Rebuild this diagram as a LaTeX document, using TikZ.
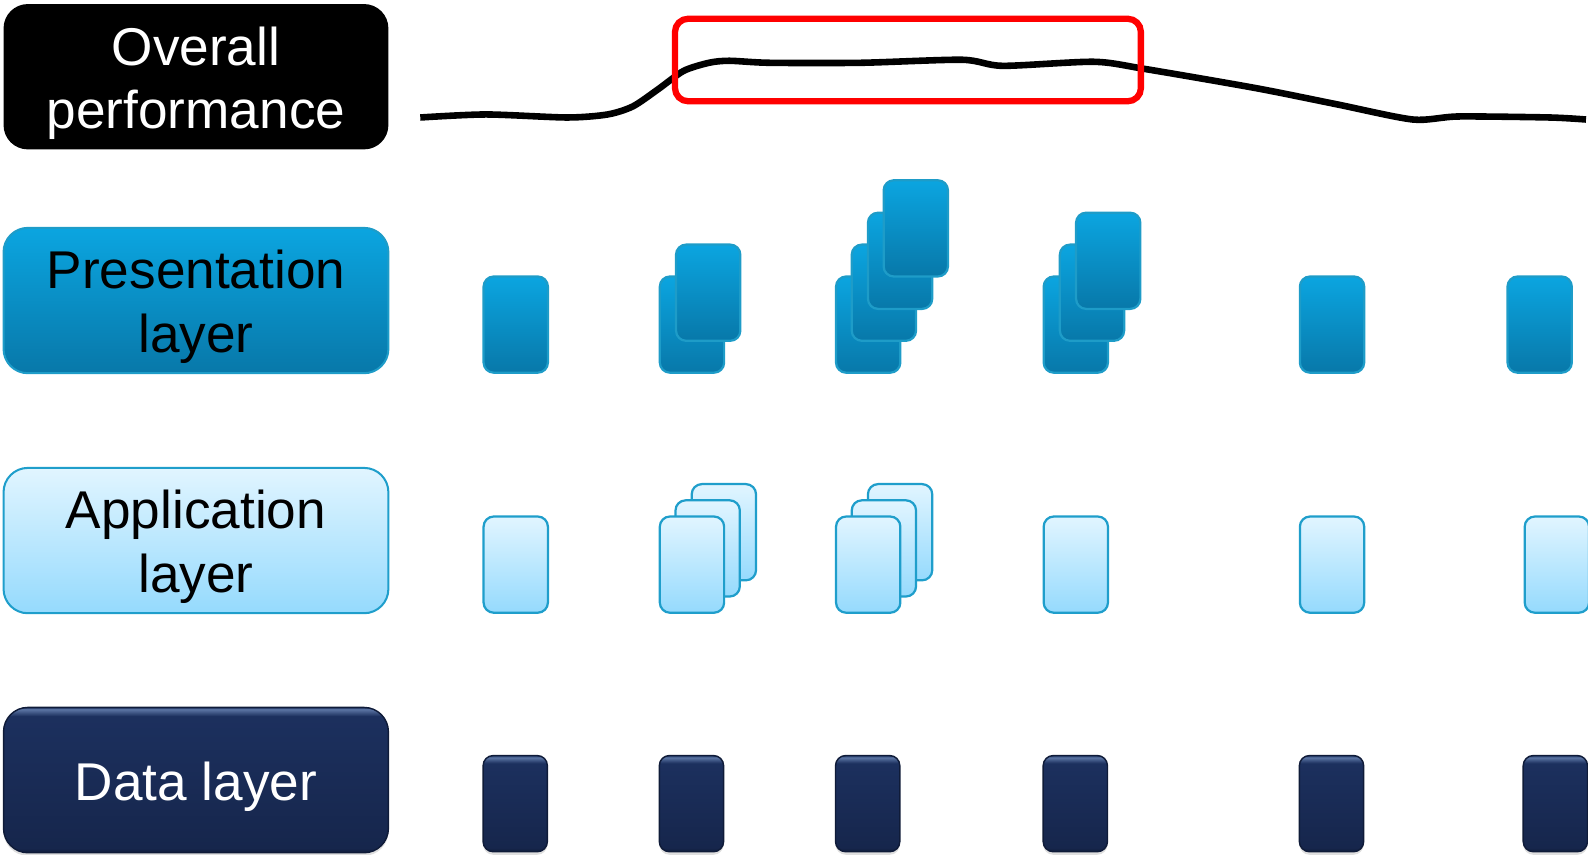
\documentclass[tikz,border=0pt]{standalone}
\usepackage{fontspec}
\setmainfont{Liberation Sans}
\usetikzlibrary{shadows}
\definecolor{presTop}{HTML}{0BA5E0}
\definecolor{presBot}{HTML}{0878A9}
\definecolor{presLine}{HTML}{1E9CC8}
\definecolor{appTop}{HTML}{E1F5FF}
\definecolor{appBot}{HTML}{95DAFD}
\definecolor{appLine}{HTML}{1F9ECB}
\definecolor{dataBase}{HTML}{1C305E}
\definecolor{dataDark}{HTML}{16264C}
\definecolor{dataEdge}{HTML}{0F1B38}
\definecolor{dataLight}{HTML}{5D77A6}
\pgfdeclareverticalshading{databig}{100bp}{
  color(0bp)=(dataEdge); color(25bp)=(dataEdge); color(26.5bp)=(dataDark); color(72bp)=(dataBase);
  color(74.4bp)=(dataLight); color(75bp)=(dataBase); color(100bp)=(dataBase)}
\pgfdeclareverticalshading{datasmall}{100bp}{
  color(0bp)=(dataEdge); color(25bp)=(dataEdge); color(27bp)=(dataDark); color(71bp)=(dataBase);
  color(74bp)=(dataLight); color(75bp)=(dataBase); color(100bp)=(dataBase)}
\tikzset{
  every node/.append style={inner sep=0pt,outer sep=0pt,anchor=north west,align=center},
  labelbox/.style={minimum width=380pt,minimum height=143.5pt,rounded corners=24pt,line width=2pt,
    font=\fontsize{52.5}{63}\selectfont},
  cardbox/.style={minimum width=63.5pt,minimum height=95pt,rounded corners=10pt,line width=2.2pt},
  presfill/.style={draw=presLine,top color=presTop,bottom color=presBot},
  appfill/.style={draw=appLine,top color=appTop,bottom color=appBot},
  databig/.style={shading=databig,shading angle=0,draw=dataEdge,line width=1.4pt,
    drop shadow={opacity=.25,shadow xshift=0pt,shadow yshift=-3pt}},
  datasmall/.style={shading=datasmall,shading angle=0,draw=dataEdge,line width=1.4pt,
    drop shadow={opacity=.25,shadow xshift=0pt,shadow yshift=-3pt}},
  curveline/.style={line width=6.5pt,black},
  redframe/.style={draw=red,line width=6.2pt,rounded corners=13pt,minimum width=460pt,minimum height=81.5pt}
}
\newcommand{\pc}[3]{\node[cardbox,presfill] (#1) at (#2,#3) {};}
\newcommand{\ac}[3]{\node[cardbox,appfill] (#1) at (#2,#3) {};}
\newcommand{\dc}[2]{\node[cardbox,datasmall] (#1) at (#2,746) {};}
\newcommand{\labeltext}[1]{\parbox{370pt}{\centering\vspace*{13pt}#1}}
\begin{document}
\begin{tikzpicture}[x=1pt,y=-1pt]
\useasboundingbox (0,0) rectangle (1568,844.2);
% row labels
\node[labelbox,fill=black,text=white] (overall) at (3.5,4) {\labeltext{Overall\\performance}};
\node[labelbox,presfill] (preslabel) at (3.5,225) {\labeltext{Presentation\\layer}};
\node[labelbox,appfill] (applabel) at (3.5,462) {\labeltext{Application\\layer}};
\node[labelbox,databig,text=white] (datalabel) at (3.5,698.5) {\labeltext{Data layer}};
% performance curve
\draw[curveline] plot[smooth,tension=.45] coordinates {
 (415,116) (480,113) (560,116) (600,113) (625,105) (650,88) (675,70) (700,62) (720,60)
 (760,62) (850,62) (950,59) (990,65) (1080,61) (1130,68) (1240,87) (1320,103)
 (1395,118) (1440,115) (1530,116) (1566,118)};
\node[redframe] (focus) at (666.5,18.5) {};
% presentation cards
\pc{p1}{477.5}{273}
\pc{p2a}{651.5}{273}\pc{p2b}{667.5}{241.5}
\pc{p3a}{825.5}{273}\pc{p3b}{841}{241.5}\pc{p3c}{857}{210}\pc{p3d}{872.5}{178}
\pc{p4a}{1030.5}{273}\pc{p4b}{1046.5}{241.5}\pc{p4c}{1062.5}{210}
\pc{p5}{1283.5}{273}
\pc{p6}{1488.5}{273}
% application cards
\ac{a1}{477.5}{510}
\ac{a2c}{683}{478}\ac{a2b}{667}{494}\ac{a2a}{651.5}{510}
\ac{a3c}{857}{478}\ac{a3b}{841}{494}\ac{a3a}{825.5}{510}
\ac{a4}{1030.5}{510}
\ac{a5}{1283.5}{510}
\ac{a6}{1505.5}{510}
% data cards
\dc{d1}{477}
\dc{d2}{651}
\dc{d3}{825}
\dc{d4}{1030}
\dc{d5}{1283}
\dc{d6}{1504}
\end{tikzpicture}
\end{document}
